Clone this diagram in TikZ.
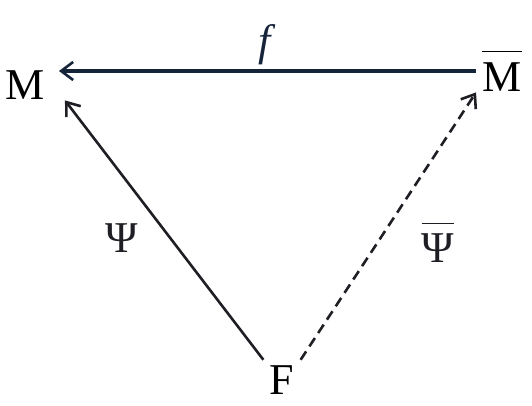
\documentclass[tikz,border=0pt]{standalone}
\usepackage{fontspec}
\setmainfont{Liberation Serif}
\usetikzlibrary{arrows.meta}
\definecolor{navy}{RGB}{22,36,58}
\definecolor{ink}{RGB}{30,30,36}

\begin{document}
\begin{tikzpicture}[x=0.5pt, y=-0.5pt,
    obj/.style={anchor=base, inner sep=3pt, font=\fontsize{22}{26}\selectfont},
    lbl/.style={inner sep=0pt, font=\fontsize{22}{26}\selectfont},
    map/.style={ink, line width=1.3pt, -{Straight Barb[length=6pt, width=9pt, line width=1.3pt]}}]
  \useasboundingbox (0,0) rectangle (532,406);
  % objects
  \node[obj] (M) at (25,100) {M};
  \node[obj] (Mbar) at (502,92) {$\overline{\rule{0pt}{19pt}\hbox{M}}$};
  \node[obj] (F) at (282,395) {F};
  % f on top
  \draw[map, navy, line width=2.2pt] (Mbar.west) -- ([xshift=4pt]M.east |- Mbar.west)
    node[lbl, midway, above=2pt] {\textit{f}};
  % the two maps out of F
  \draw[map] (F.north west) -- ([shift={(7pt,3pt)}]M.south east)
    node[lbl, pos=0.47, xshift=-24pt] {Ψ};
  \draw[map, dashed, dash pattern=on 5pt off 3pt] (F.north east) -- ([yshift=3pt]Mbar.south west)
    node[lbl, pos=0.44, xshift=30pt] {$\overline{\rule{0pt}{18pt}\hbox{Ψ}}$};
\end{tikzpicture}
\end{document}
